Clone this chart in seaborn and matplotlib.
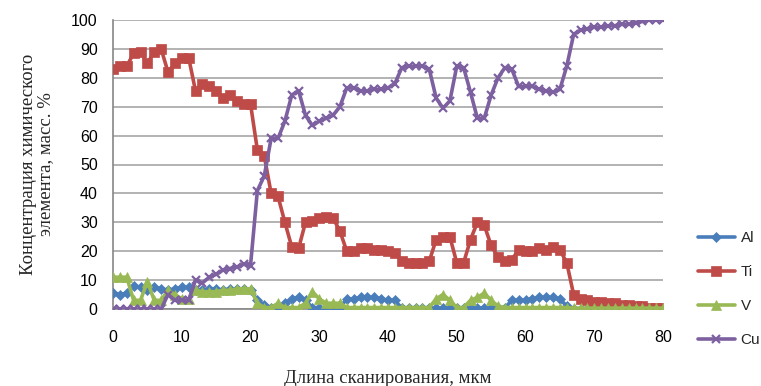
import numpy as np
import pandas as pd
import matplotlib
matplotlib.use("Agg")
import matplotlib.pyplot as plt
import seaborn as sns

scan = list(range(0, 81))

al = [5.5, 5, 5.5, 8, 7.5, 6.5, 7.5, 7, 6.5, 7, 7.5, 7.5, 6.5, 6.5, 7, 7, 6.5, 7, 7, 7,
      6.5, 3, 1.5, 0.5, 0.5, 2, 3.5, 4, 3, 0.5, 0.5, 0.5, 0.5, 0.5, 3.5, 3.5, 4, 4, 4, 3.5,
      3, 3, 0.3, 0.3, 0.3, 0.3, 0.3, 0.3, 0.3, 0.3, 0.3, 0.3, 0.3, 0.3, 0.3, 0.3, 0.3, 0.3, 3, 3,
      3, 3.5, 4, 4, 4, 3.5, 1, 0, 0, 0, 0, 0, 0, 0, 0, 0, 0, 0, 0, 0, 0]

ti = [83, 84, 84, 88.5, 89, 85, 89, 90, 82, 85, 87, 87, 75.5, 78, 77, 75.5, 73, 74, 72, 71,
      71, 55, 53, 40, 39, 30, 21.5, 21, 30, 30.5, 31.5, 32, 31.5, 27, 20, 20, 21, 21, 20.5, 20.5,
      20, 19.5, 16.5, 16, 16, 16, 16.5, 24, 25, 25, 16, 16, 24, 30, 29, 22, 18, 16.5, 17, 20.5,
      20, 20, 21, 20.5, 21.5, 20.5, 16, 5, 3.5, 3, 2.5, 2.5, 2, 2, 1.5, 1.5, 1, 1, 0.5, 0.5, 0.5]

v = [11, 11, 11, 3, 3, 9.5, 3, 3, 6.5, 5, 3.5, 3.5, 6.5, 6, 6, 6, 6.5, 6.5, 7, 7,
     7, 2, 0.5, 0.5, 2, 0.5, 0.5, 0.5, 2, 6, 3.5, 2, 2, 2, 0.5, 0.5, 0.5, 0.5, 0.5, 0.5,
     0.5, 0.5, 0.5, 0.5, 0.5, 0.5, 0.5, 3.5, 5, 3, 0.5, 0.5, 3, 4, 5.5, 3, 1, 0.5, 0.5, 0.5,
     0.5, 0.5, 0.5, 0.5, 0.5, 0.5, 0.5, 0.3, 0.3, 0.3, 0.3, 0.3, 0.3, 0.3, 0.3, 0.3, 0.3, 0.3, 0.3, 0.3, 0.3]

cu = [0, 0, 0, 0, 0, 0, 0, 0, 5, 3, 3, 3, 10, 9, 11, 12, 13.5, 14, 14.5, 15.5,
      15, 41, 46, 59, 59, 65, 74, 75.5, 67, 63.5, 65, 66, 67, 70, 76.5, 76.5, 75.5, 75.5, 76, 76,
      76.5, 78, 83.5, 84, 84, 84, 83, 73, 69.5, 72, 84, 83.5, 75, 66, 66, 74, 80, 83.5, 83, 77,
      77, 77, 76, 75.5, 75, 76, 84, 95, 96.5, 97, 97.5, 97.5, 98, 98, 98.5, 98.5, 99, 99.5, 100, 100, 100]

series = {"Al": al, "Ti": ti, "V": v, "Cu": cu}
colors = {"Al": "#4A7EBB", "Ti": "#BE4B48", "V": "#98B954", "Cu": "#7D60A0"}
markers = {"Al": "D", "Ti": "s", "V": "^", "Cu": "x"}
msizes = {"Al": 5.5, "Ti": 6.5, "V": 6.5, "Cu": 6}

sns.set_theme(style="white")
plt.rcParams['font.family'] = ['Liberation Sans', 'DejaVu Sans']

fig = plt.figure(figsize=(7.61, 3.86), dpi=100)
ax = fig.add_axes([113/761, 1-309/386, (663-113)/761, (309-20)/386])

for name, vals in series.items():
    df = pd.DataFrame({"x": scan, "y": vals})
    sns.lineplot(data=df, x="x", y="y", ax=ax, color=colors[name], linewidth=2.6,
                 marker=markers[name], markersize=msizes[name],
                 markeredgecolor=colors[name], markeredgewidth=1.6 if name == "Cu" else 0.5,
                 label=name, zorder=3 if name != "Cu" else 4)

ax.set_xlim(0, 80)
ax.set_ylim(0, 100)
ax.set_xticks(range(0, 81, 10))
ax.set_yticks(range(0, 101, 10))
ax.yaxis.grid(True, color="#A6A6A6", linewidth=1.2)
ax.xaxis.grid(False)
for s in ["top", "right"]:
    ax.spines[s].set_visible(False)
for s in ["left", "bottom"]:
    ax.spines[s].set_color("#868686")
    ax.spines[s].set_linewidth(1.2)
ax.tick_params(axis="both", which="both", length=5, width=1, color="#868686",
               labelsize=11.5, labelcolor="#000000", direction="out")
ax.tick_params(axis="x", pad=10)
ax.tick_params(axis="y", pad=6)
ax.set_xlabel("Длина сканирования, мкм", fontsize=13.5, family=["Liberation Serif"], labelpad=18)
ax.set_ylabel("Концентрация химического\nэлемента, масс. %", fontsize=13.5,
              family=["Liberation Serif"], labelpad=12, linespacing=1.05)

ax.get_legend().remove()
handles, labels = ax.get_legend_handles_labels()
fig.legend(handles, labels, loc="center left", bbox_to_anchor=(0.917, 0.251),
           frameon=False, fontsize=11, labelspacing=1.32, handlelength=2.4,
           handletextpad=0.4, borderaxespad=0, borderpad=0)

fig.savefig("out.png", dpi=100)
